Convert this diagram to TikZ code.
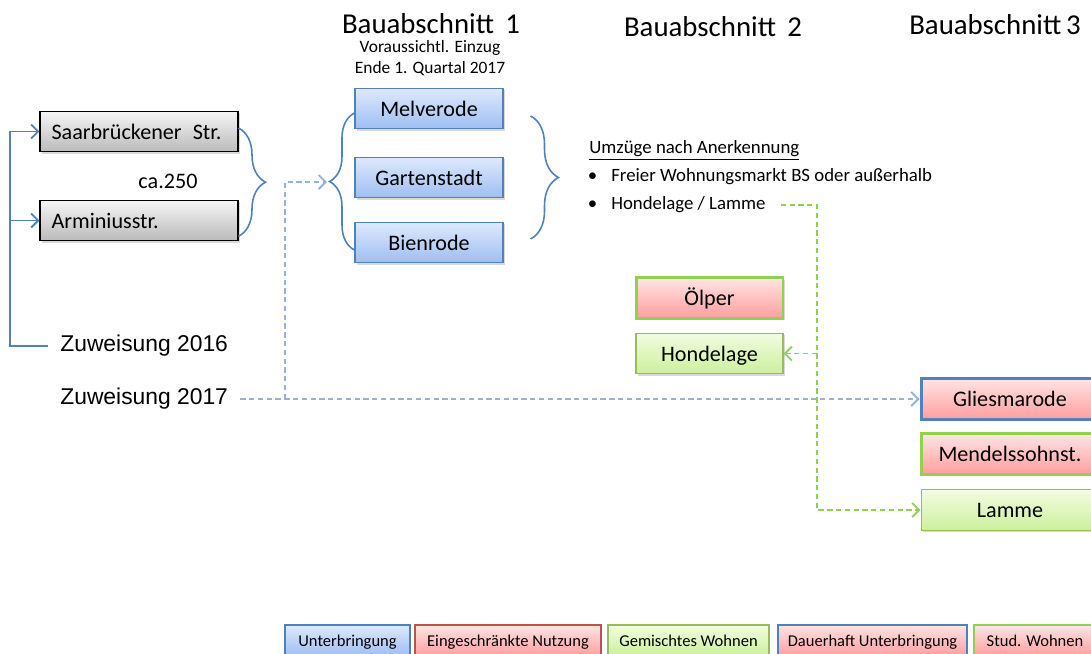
\documentclass[tikz,border=0pt]{standalone}
\usepackage{fontspec}
\setmainfont{Carlito}
\newfontfamily\arialfont{Liberation Sans}
\usetikzlibrary{arrows.meta, calc, shadows, decorations.pathreplacing}

\definecolor{frameblue}{RGB}{79,129,189}
\definecolor{dashblue}{RGB}{149,179,215}
\definecolor{framered}{RGB}{192,80,77}
\definecolor{framegreen}{RGB}{155,187,89}
\definecolor{brightgreen}{RGB}{146,208,80}
\definecolor{bluetop}{RGB}{222,233,252}
\definecolor{bluebot}{RGB}{158,190,242}
\definecolor{redtop}{RGB}{255,228,228}
\definecolor{redbot}{RGB}{255,158,158}
\definecolor{greentop}{RGB}{242,252,224}
\definecolor{greenbot}{RGB}{204,240,156}
\definecolor{graytop}{RGB}{246,246,246}
\definecolor{graybot}{RGB}{186,186,186}

\tikzset{
  site/.style={draw, minimum height=0.81cm, inner sep=2pt, line width=0.6pt,
    text height=8.7pt, text depth=0pt,
    font=\fontsize{12.6}{15}\selectfont,
    drop shadow={shadow xshift=1pt, shadow yshift=-1pt, opacity=0.3}},
  oldsite/.style={site, draw=black, top color=graytop, bottom color=graybot,
    minimum width=3.96cm, text width=3.5cm, align=left},
  bluesite/.style={site, draw=frameblue, top color=bluetop, bottom color=bluebot, minimum width=2.96cm},
  redfill/.style={top color=redtop, bottom color=redbot},
  greenfill/.style={top color=greentop, bottom color=greenbot},
  keybox/.style={draw, minimum height=0.62cm, inner sep=2pt, line width=0.7pt,
    text height=6.5pt, text depth=0pt, font=\fontsize{9.4}{11}\selectfont},
  feed/.style={frameblue, line width=1.1pt},
  newfeed/.style={dashblue, line width=1.1pt, dash pattern=on 3pt off 2pt},
  move/.style={brightgreen, line width=1.1pt, dash pattern=on 3pt off 2pt},
  barb/.style={-{Straight Barb[length=4pt, width=8pt]}},
  curly/.style={decorate, decoration={brace, amplitude=#1}, frameblue, line width=0.9pt},
  zuw/.style={anchor=west, inner xsep=0.24cm, font=\arialfont\fontsize{13}{15}\selectfont},
  heading/.style={inner sep=0pt, font=\fontsize{16.4}{19}\selectfont},
  item/.style={anchor=west, inner sep=0pt, font=\fontsize{10.7}{13}\selectfont}
}

\begin{document}
\begin{tikzpicture}[x=0.02cm, y=-0.02cm]
  \useasboundingbox (0,0) rectangle (1091,653);

  % Headings
  \node[heading] (ba1) at (431,24) {Bauabschnitt\ \,1};
  \node[heading] (ba2) at (713,27) {Bauabschnitt\ \,2};
  \node[heading] (ba3) at (995,25) {Bauabschnitt\,3};
  \node[inner sep=0pt, align=center, font=\fontsize{9.9}{12}\selectfont] (einzug) at (430,58) {Voraussichtl. Einzug\\Ende 1. Quartal 2017};

  % Current sites
  \node[oldsite] (saar) at (139,131.5) {Saarbrückener\ \,Str.};
  \node[oldsite] (armin) at (139,220.5) {Arminiusstr.};
  \node[font=\fontsize{12.6}{15}\selectfont] (ca) at (168,181) {ca.250};

  % Allocation
  \node[zuw] (z16) at (48,346) {Zuweisung 2016};
  \node[zuw] (z17) at (48,399) {Zuweisung 2017};
  \coordinate (feedbus) at (10,346);
  \draw[feed, barb] (z16.west) -- (feedbus) |- (saar.west);
  \draw[feed, barb] (feedbus |- armin.west) -- (armin.west);

  % Bauabschnitt 1
  \node[bluesite] (melv) at (429,108.5) {Melverode};
  \node[bluesite] (garten) at (429,177.5) {Gartenstadt};
  \node[bluesite] (bien) at (429,242.5) {Bienrode};

  % Braces
  \draw[curly=0.54cm] ($(saar.east)+(0,-3.5)$) -- ($(armin.south east)+(0,-5)$);
  \draw[curly=0.5cm] ($(bien.west)+(0,7.5)$) -- ($(melv.west)+(0,4.5)$);
  \draw[curly=0.56cm] ($(melv.east)+(27,7.5)$) -- ($(bien.east)+(27,-3.5)$);

  % Moves
  \node[item] (umz) at (589,150) {\underline{Umzüge nach Anerkennung}};
  \node[item] (markt) at (611,177) {\llap{\textbullet\hspace{8pt}}Freier Wohnungsmarkt BS oder außerhalb};
  \node[item] (hl) at (611,205) {\llap{\textbullet\hspace{8pt}}Hondelage / Lamme};

  % Bauabschnitt 2
  \node[site, redfill, draw=brightgreen, line width=1.7pt, minimum width=2.94cm] (oelper) at (709.5,298) {Ölper};
  \node[site, greenfill, draw=framegreen, minimum width=2.94cm] (hond) at (709.5,353.5) {Hondelage};

  % Bauabschnitt 3
  \node[site, redfill, draw=frameblue, line width=1.7pt, minimum width=3.56cm] (glies) at (1010,399) {Gliesmarode};
  \node[site, redfill, draw=brightgreen, line width=1.7pt, minimum width=3.56cm] (mend) at (1010,454) {Mendelssohnst.};
  \node[site, greenfill, draw=framegreen, minimum width=3.56cm] (lamme) at (1010,510) {Lamme};

  % Dashed connectors
  \coordinate (split) at (285,399);
  \coordinate (b1tip) at (327,182);
  \draw[newfeed, barb] (z17.east) -- (glies.west);
  \draw[newfeed, barb] (split) |- (b1tip);
  \coordinate (turn) at (817,205);
  \draw[move, barb] ([xshift=0.3cm]hl.east) -- (turn) |- (lamme.west);
  \draw[move, barb] (turn |- hond.east) -- (hond.east);

  % Legend
  \node[keybox, draw=frameblue, top color=bluetop, bottom color=bluebot, minimum width=2.5cm] (key1) at (347.5,640.5) {Unterbringung};
  \node[keybox, draw=framered, redfill, minimum width=3.72cm] (key2) at (508,640.5) {Eingeschränkte Nutzung};
  \node[keybox, draw=framegreen, greenfill, minimum width=3.22cm] (key3) at (688.5,640.5) {Gemischtes Wohnen};
  \node[keybox, draw=frameblue, line width=1.2pt, redfill, minimum width=3.78cm] (key4) at (872.5,640.5) {Dauerhaft Unterbringung};
  \node[keybox, draw=brightgreen, line width=1.2pt, redfill, minimum width=2.44cm] (key5) at (1035,640.5) {Stud. Wohnen};
\end{tikzpicture}
\end{document}
